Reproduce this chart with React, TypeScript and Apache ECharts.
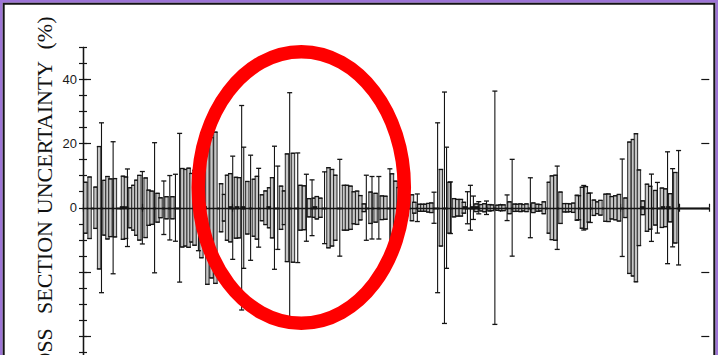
import React, { useEffect, useRef } from "react";
import * as echarts from "echarts";

// Bins drawn as shaded uncertainty boxes: position (axis units) and +/- uncertainty (%)
const boxX = [0.8, 2.2, 4.2, 5.4, 7.2, 8.2, 9.2, 10.7, 13.4, 14.4, 15.9, 16.9, 17.9, 18.9, 21.0, 22.0, 23.0, 25.0, 26.0, 28.0, 30.0, 33.3, 34.4, 35.4, 36.4, 37.4, 39.7, 41.7, 43.1, 44.4, 46.3, 47.3, 48.3, 49.4, 51.3, 52.3, 55.1, 57.3, 58.3, 60.0, 61.2, 62.4, 63.4, 66.4, 67.4, 68.4, 70.4, 72.9, 74.1, 75.8, 77.4, 78.4, 79.6, 82.3, 83.5, 84.6, 87.5, 88.5, 89.7, 90.8, 91.9, 93.0, 94.2, 96.4, 98.1, 100.2, 101.4, 103.6, 104.8, 105.8, 107.1, 108.4, 110.3, 111.1, 112.8, 113.8, 114.8, 115.8, 116.8, 120.0, 122.9, 124.4, 125.5, 126.7, 127.7, 131.9, 133.6, 134.6, 136.3, 137.1, 139.0, 140.0, 141.0, 143.0, 144.7, 145.7, 146.7, 147.7, 148.7, 151.0, 152.4, 153.4, 154.5, 156.2, 157.2, 158.4, 160.1, 161.4, 162.4, 163.4, 164.4, 165.6, 167.3, 168.6, 169.6, 171.3, 172.5, 173.5, 175.2, 176.2, 177.3, 178.5, 179.7, 181.9, 183.2, 184.4, 185.4, 186.4, 187.7, 189.1, 190.2, 191.9, 194.1, 195.3, 196.9, 198.6];
const boxUnc = [7.95, 9.6, 6.45, 19.1, 8.55, 9.75, 9.0, 9.1, 9.85, 9.6, 6.25, 7.0, 8.6, 10.1, 9.3, 5.5, 5.2, 4.5, 3.1, 3.45, 3.45, 12.25, 11.95, 12.35, 10.7, 11.7, 15.6, 23.9, 21.9, 23.6, 7.5, 4.15, 10.15, 10.65, 9.5, 9.4, 8.2, 8.9, 9.8, 4.05, 5.25, 6.25, 9.4, 6.75, 5.25, 16.8, 17.0, 7.0, 6.85, 2.85, 3.0, 3.5, 3.0, 12.5, 11.95, 10.15, 7.0, 7.0, 6.75, 5.0, 5.2, 3.8, 1.2, 4.9, 4.5, 3.7, 3.6, 10.6, 8.3, 6.3, 3.4, 2.45, 4.05, 1.7, 1.1, 1.1, 1.1, 1.35, 1.5, 11.95, 7.95, 2.85, 2.6, 2.6, 1.7, 1.2, 1.0, 1.25, 1.0, 0.9, 0.8, 0.9, 0.9, 1.85, 1.15, 1.1, 1.2, 1.0, 1.2, 1.5, 1.1, 1.0, 1.85, 7.95, 9.95, 10.15, 4.9, 1.3, 1.3, 1.2, 1.45, 3.9, 6.4, 6.6, 4.5, 2.4, 1.85, 2.3, 4.25, 4.3, 3.5, 3.75, 4.15, 3.05, 20.5, 21.3, 23.1, 11.8, 2.15, 7.35, 6.7, 5.4, 6.15, 5.9, 4.4, 11.0];

// Bins drawn as single error bars
const lineX = [6.2, 10.1, 14.9, 19.9, 24.0, 27.1, 29.1, 31.0, 32.4, 38.7, 50.2, 53.2, 53.9, 56.2, 58.9, 64.2, 65.3, 69.3, 72.0, 74.9, 76.8, 81.0, 86.1, 95.0, 96.9, 99.2, 102.9, 112.1, 117.7, 118.9, 121.2, 121.9, 123.2, 128.9, 129.9, 130.9, 132.7, 135.3, 138.1, 142.2, 143.9, 150.0, 159.0, 166.2, 167.9, 170.1, 180.8, 190.6, 192.6, 196.0, 197.7, 199.7];
const lineUnc = [26.5, 20.6, 12.1, 11.3, 20.3, 8.35, 10.05, 10.45, 23.2, 13.4, 16.1, 31.9, 18.9, 16.4, 12.3, 19.2, 13.0, 35.9, 17.1, 10.45, 8.7, 11.2, 15.1, 10.15, 9.75, 9.75, 12.15, 4.3, 4.85, 26.5, 36.1, 18.9, 8.05, 5.0, 7.0, 3.65, 1.9, 2.1, 36.4, 4.0, 15.1, 9.35, 13.0, 3.75, 6.95, 4.6, 15.2, 10.5, 7.9, 17.45, 12.2, 17.85];

// Bins with very small uncertainty (appear as dark marks on the zero line)
const blobX = [13.1, 14.4, 40.8, 49.6, 51.7, 53.6, 62.3, 77.8, 128.0, 130.5, 132.0, 187.5, 194.5, 196.3];
const blobUnc = [0.5, 0.5, 0.5, 0.5, 0.5, 0.5, 0.5, 0.5, 0.5, 0.5, 0.5, 0.5, 0.5, 0.5];

const xRange = [0, 210];
const yRange = [-50, 50];
const yMajorRange = [-40, 40];
const yLabelValues = [0, 20, 40];
const titleWords = ["CROSS", "SECTION", "UNCERTAINTY", "(%)"];

export default function App() {
  const ref = useRef<HTMLDivElement>(null);

  useEffect(() => {
    const chart = echarts.init(ref.current!, null, { renderer: "svg" });
    const ink = "#141414";

    const boxData = boxX.map((x, i) => [x, boxUnc[i]]);
    const lineData = lineX.map((x, i) => [x, lineUnc[i]]);
    const blobData = blobX.map((x, i) => [x, blobUnc[i]]);

    const boxRender = (params: any, api: any) => {
      const x = api.value(0);
      const u = api.value(1);
      const t = api.coord([x, u]);
      const b = api.coord([x, -u]);
      const w = 3.4;
      const cw = 4.6;
      return {
        type: "group",
        children: [
          { type: "rect", shape: { x: t[0] - w / 2, y: t[1], width: w, height: b[1] - t[1] }, style: { fill: "#c6c6c6", stroke: ink, lineWidth: 0.9 } },
          { type: "line", shape: { x1: t[0] - cw / 2, y1: t[1], x2: t[0] + cw / 2, y2: t[1] }, style: { stroke: ink, lineWidth: 1.3 } },
          { type: "line", shape: { x1: b[0] - cw / 2, y1: b[1], x2: b[0] + cw / 2, y2: b[1] }, style: { stroke: ink, lineWidth: 1.3 } },
        ],
      };
    };

    const lineRender = (params: any, api: any) => {
      const x = api.value(0);
      const u = api.value(1);
      const t = api.coord([x, u]);
      const b = api.coord([x, -u]);
      const cw = 5;
      return {
        type: "group",
        children: [
          { type: "line", shape: { x1: t[0], y1: t[1], x2: b[0], y2: b[1] }, style: { stroke: ink, lineWidth: 1.1 } },
          { type: "line", shape: { x1: t[0] - cw / 2, y1: t[1], x2: t[0] + cw / 2, y2: t[1] }, style: { stroke: ink, lineWidth: 1.3 } },
          { type: "line", shape: { x1: b[0] - cw / 2, y1: b[1], x2: b[0] + cw / 2, y2: b[1] }, style: { stroke: ink, lineWidth: 1.3 } },
        ],
      };
    };

    const blobRender = (params: any, api: any) => {
      const x = api.value(0);
      const u = api.value(1);
      const t = api.coord([x, u]);
      const b = api.coord([x, -u]);
      const w = 4.5;
      return {
        type: "rect",
        shape: { x: t[0] - w / 2, y: t[1], width: w, height: b[1] - t[1] },
        style: { fill: ink },
      };
    };

    const frameLine = { show: true, lineStyle: { color: ink, width: 1.3 } };
    const minorTick = { show: true, inside: true, length: 4, lineStyle: { color: ink, width: 1.2 } };
    const majorTick = { show: true, inside: true, length: 8, lineStyle: { color: ink, width: 1.2 } };

    const titleCenters = [363, 267.5, 137.5, 33];

    const option: any = {
      animation: false,
      backgroundColor: "#ffffff",
      grid: [
        { left: 83, right: 8.7, top: 47.5, height: 320.5 },
        { left: 83, right: 8.7, top: 79.55, height: 256.4 },
      ],
      xAxis: [
        { type: "value", gridIndex: 0, position: "top", min: xRange[0], max: xRange[1], interval: 10, axisLine: frameLine, axisTick: minorTick, axisLabel: { show: false }, splitLine: { show: false } },
        { type: "value", gridIndex: 0, position: "bottom", min: xRange[0], max: xRange[1], interval: 10, axisLine: frameLine, axisTick: minorTick, axisLabel: { show: false }, splitLine: { show: false } },
        { type: "value", gridIndex: 1, show: false, min: 0, max: 1 },
      ],
      yAxis: [
        { type: "value", gridIndex: 0, position: "left", min: yRange[0], max: yRange[1], interval: 5, axisLine: frameLine, axisTick: minorTick, axisLabel: { show: false }, splitLine: { show: false } },
        { type: "value", gridIndex: 0, position: "right", min: yRange[0], max: yRange[1], interval: 5, axisLine: frameLine, axisTick: minorTick, axisLabel: { show: false }, splitLine: { show: false } },
        {
          type: "value", gridIndex: 1, position: "left", min: yMajorRange[0], max: yMajorRange[1], interval: 20,
          axisLine: { show: false }, axisTick: majorTick, splitLine: { show: false },
          axisLabel: {
            show: true, margin: 6, fontFamily: "Liberation Sans", fontSize: 13, color: "#1a1a1a",
            formatter: (v: number) => (yLabelValues.indexOf(v) >= 0 ? String(v) : ""),
          },
        },
        {
          type: "value", gridIndex: 1, position: "right", min: yMajorRange[0], max: yMajorRange[1], interval: 20,
          axisLine: { show: false }, axisTick: majorTick, splitLine: { show: false }, axisLabel: { show: false },
        },
      ],
      series: [
        {
          type: "custom", name: "boxes", xAxisIndex: 0, yAxisIndex: 0, renderItem: boxRender, data: boxData, encode: { x: 0, y: 1 }, z: 2,
        },
        { type: "custom", name: "bars", xAxisIndex: 0, yAxisIndex: 0, renderItem: lineRender, data: lineData, encode: { x: 0, y: 1 }, z: 3 },
        {
          type: "custom", name: "small", xAxisIndex: 0, yAxisIndex: 0, renderItem: blobRender, data: blobData, encode: { x: 0, y: 1 }, z: 5,
          markLine: {
            silent: true,
            symbol: ["none", "none"],
            label: { show: false },
            lineStyle: { color: ink, width: 1.3, type: "solid" },
            data: [{ yAxis: 0 }],
          },
        },
      ],
      graphic: [
        { type: "rect", z: 50, shape: { x: 1.3, y: 1.3, width: 715.4, height: 420 }, style: { fill: "none", stroke: "#9d74d6", lineWidth: 2.7 } },
        { type: "rect", z: 51, shape: { x: 3.7, y: 3.7, width: 710.6, height: 420 }, style: { fill: "none", stroke: ink, lineWidth: 2 } },
        ...titleWords.map((w, i) => ({
          type: "text",
          z: 40,
          x: 44.5,
          y: titleCenters[i],
          rotation: Math.PI / 2,
          style: {
            text: w,
            font: '22px "Liberation Serif"',
            fill: "#111",
            align: "center",
            verticalAlign: "middle",
            textAlign: "center",
            textVerticalAlign: "middle",
          },
        })),
        {
          type: "ellipse",
          z: 60,
          shape: { cx: 301.3, cy: 187.5, rx: 103, ry: 135.8 },
          style: { fill: "none", stroke: "#ff0000", lineWidth: 13.5 },
        },
      ],
    };

    chart.setOption(option);
    return () => chart.dispose();
  }, []);

  return (
    <div style={{ position: "fixed", left: 0, top: 0, width: 718, height: 355, overflow: "hidden", background: "#fff" }}>
      <div ref={ref} style={{ width: 718, height: 380 }} />
    </div>
  );
}
